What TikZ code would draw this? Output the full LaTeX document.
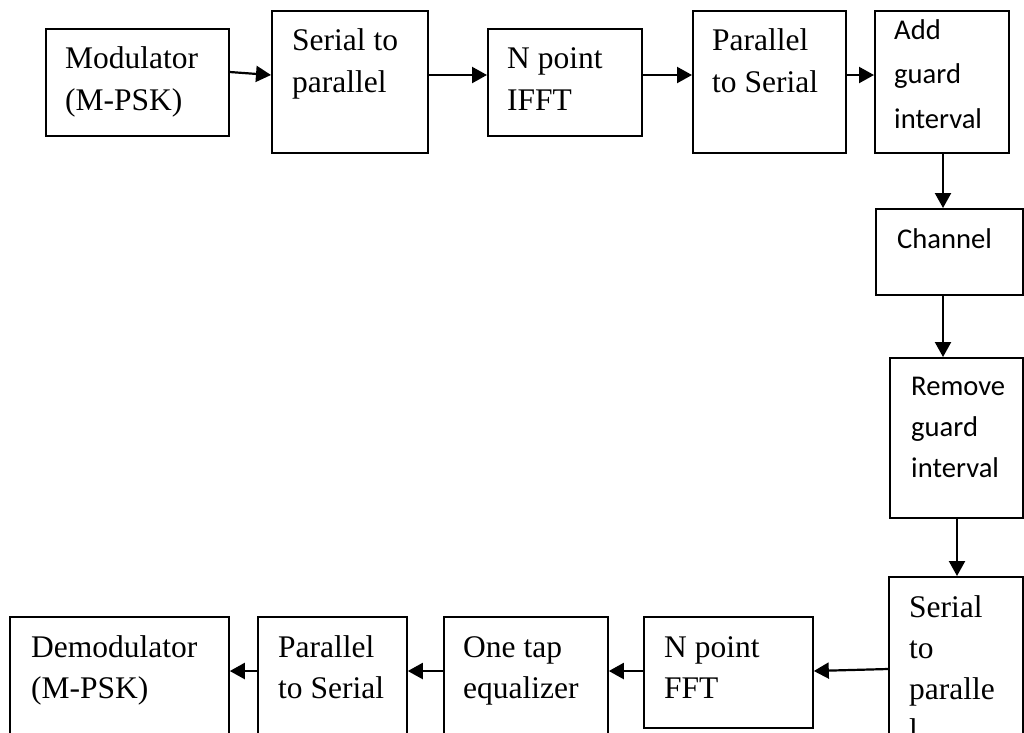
\documentclass[tikz,border=0pt]{standalone}
\usepackage{fontspec}
\setmainfont{Liberation Serif}
\newfontfamily\carlfont{Carlito}
\usetikzlibrary{arrows.meta,calc}
\newcommand\myst{\rule{0pt}{40pt}}
\newcommand\mycst{\rule{0pt}{30pt}}
\tikzset{
  box/.style={draw, line width=1.8pt, inner sep=0pt, anchor=north west},
  tx/.style={anchor=north west, inner sep=0pt, align=left, font=\fontsize{31.5}{42}\selectfont},
  txb/.style={anchor=north west, inner sep=0pt, align=left, font=\fontsize{31.5}{41}\selectfont},
  cx/.style={anchor=north west, inner sep=0pt, align=left, font=\carlfont\fontsize{28.6}{44.5}\selectfont},
  arr/.style={line width=2.2pt, -{Triangle[length=15pt,width=16pt]}}
}
\begin{document}
\begin{tikzpicture}[x=1pt,y=-1pt]
\useasboundingbox (0,0) rectangle (1024,732);
\clip (0,0) rectangle (1024,732);
% boxes
\node[box, minimum width=183pt, minimum height=107pt] (mod) at (45,28) {};
\node[box, minimum width=156pt, minimum height=142pt] (sp) at (271,10) {};
\node[box, minimum width=154pt, minimum height=107pt] (ifft) at (487,28) {};
\node[box, minimum width=153pt, minimum height=142pt] (ps) at (692,10) {};
\node[box, minimum width=134pt, minimum height=142pt] (add) at (874,10) {};
\node[box, minimum width=147pt, minimum height=86pt] (ch) at (875,208) {};
\node[box, minimum width=133pt, minimum height=160pt] (rm) at (889,357) {};
\node[box, minimum width=134pt, minimum height=230pt] (sp2) at (888,576) {};
\node[box, minimum width=169pt, minimum height=111pt] (fft) at (643,616) {};
\node[box, minimum width=164pt, minimum height=190pt] (eq) at (443,616) {};
\node[box, minimum width=149pt, minimum height=190pt] (ps2) at (257,616) {};
\node[box, minimum width=219pt, minimum height=190pt] (dem) at (9,616) {};
% texts
\node[tx] (modt) at ($(mod.north west)+(20,0)$) {\myst Modulator\\(M-PSK)};
\node[tx] (spt) at ($(sp.north west)+(21,0)$) {\myst Serial to\\parallel};
\node[tx] (ifftt) at ($(ifft.north west)+(20,0)$) {\myst N point\\IFFT};
\node[tx] (pst) at ($(ps.north west)+(20,0)$) {\myst Parallel\\to Serial};
\node[cx] (addt) at ($(add.north west)+(20,-1)$) {\mycst Add\\guard\\interval};
\node[cx] (cht) at ($(ch.north west)+(22,10)$) {\mycst Channel};
\node[cx, font=\carlfont\fontsize{28.6}{41}\selectfont] (rmt) at ($(rm.north west)+(22,8)$) {\mycst Remove\\guard\\interval};
\node[txb] (sp2t) at ($(sp2.north west)+(21,1)$) {\myst Serial\\to\\paralle\\l};
\node[txb] (fftt) at ($(fft.north west)+(21,1)$) {\myst N point\\FFT};
\node[txb] (eqt) at ($(eq.north west)+(20,1)$) {\myst One tap\\equalizer};
\node[txb] (ps2t) at ($(ps2.north west)+(21,1)$) {\myst Parallel\\to Serial};
\node[txb] (demt) at ($(dem.north west)+(22,1)$) {\myst Demodulator\\(M-PSK)};
% connectors
\draw[arr] ($(mod.north east)+(0,44)$) -- ($(sp.north west)+(0,65)$);
\draw[arr] ($(sp.north east)+(0,65)$) -- ($(ifft.north west)+(0,47)$);
\draw[arr] ($(ifft.north east)+(0,47)$) -- ($(ps.north west)+(0,65)$);
\draw[arr] ($(ps.north east)+(0,65)$) -- ($(add.north west)+(0,65)$);
\draw[arr] ($(add.south west)+(69,0)$) -- ($(ch.north west)+(68,0)$);
\draw[arr] ($(ch.south west)+(68,0)$) -- ($(rm.north west)+(54,0)$);
\draw[arr] ($(rm.south west)+(68,0)$) -- ($(sp2.north west)+(69,0)$);
\draw[arr] ($(sp2.north west)+(0,93)$) -- ($(fft.north east)+(0,55)$);
\draw[arr] ($(fft.north west)+(0,55)$) -- ($(eq.north east)+(0,55)$);
\draw[arr] ($(eq.north west)+(0,55)$) -- ($(ps2.north east)+(0,55)$);
\draw[arr] ($(ps2.north west)+(0,55)$) -- ($(dem.north east)+(0,55)$);
\end{tikzpicture}
\end{document}
